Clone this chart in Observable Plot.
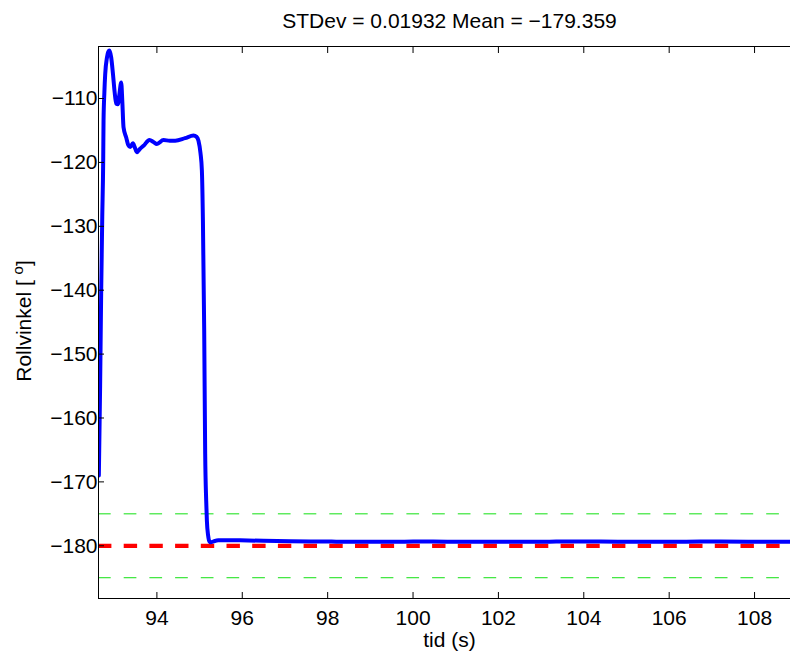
<!DOCTYPE html>
<html><head><meta charset="utf-8">
<script src="https://cdn.jsdelivr.net/npm/d3@7"></script>
<script src="https://cdn.jsdelivr.net/npm/@observablehq/plot@0.6"></script>
<style>html,body{margin:0;padding:0;background:#fff} svg{display:block}</style>
</head><body><div id="chart"></div>
<script>
// time (s) and roll angle (deg)
const time = [92.64, 92.67, 92.695, 92.72, 92.742, 92.75, 92.77, 92.789, 92.83, 92.86, 92.89, 92.93, 92.97, 93.01, 93.047, 93.086, 93.12, 93.164, 93.19, 93.218, 93.281, 93.33, 93.375, 93.438, 93.48, 93.531, 93.6, 93.686, 93.827, 93.92, 94.0, 94.155, 94.3, 94.43, 94.66, 94.857, 94.93, 94.974, 95.02, 95.054, 95.078, 95.108, 95.131, 95.155, 95.171, 95.2, 95.23, 95.26, 95.33, 95.44, 95.6, 95.95, 96.5, 97.13, 97.6, 98.2, 99.0, 99.8, 100.24, 100.8, 101.5, 102.3, 103.2, 104.0, 104.8, 105.6, 106.4, 107.2, 108.0, 108.84];
const roll = [-169.0, -155.0, -140.1, -128.5, -119.7, -113.5, -109.0, -106.2, -103.6, -102.7, -102.5, -103.6, -106.1, -109.0, -110.8, -110.9, -109.4, -107.5, -110.5, -114.5, -116.1, -117.3, -117.6, -117.0, -117.6, -118.4, -117.9, -117.4, -116.5, -116.8, -117.1, -116.5, -116.6, -116.6, -116.2, -115.8, -116.0, -116.6, -118.5, -121.3, -129.1, -146.3, -165.6, -173.0, -176.1, -178.4, -179.3, -179.45, -179.3, -179.15, -179.13, -179.15, -179.22, -179.3, -179.33, -179.35, -179.36, -179.35, -179.32, -179.35, -179.36, -179.36, -179.35, -179.33, -179.36, -179.36, -179.35, -179.34, -179.36, -179.37];

const meanRef = [-180];            // red dashed line
const bandRefs = [-175, -185];     // green dashed lines
const xTicks = [94, 96, 98, 100, 102, 104, 106, 108];
const yTicks = [-110, -120, -130, -140, -150, -160, -170, -180];
const xDomain = [92.632, 108.842];
const yDomain = [-188.25, -101.86];
const titleText = "STDev = 0.01932 Mean = \u2212179.359";
const xLabel = "tid (s)";
const yLabelParts = ["Rollvinkel [ ", "o", "]"];

const data = time.map((t, i) => ({t, v: roll[i]}));
const font = "'Liberation Sans', Arial, Helvetica, sans-serif";
const fmt = d => (d < 0 ? "\u2212" + Math.abs(d) : String(d));

const plot = Plot.plot({
  width: 790, height: 652,
  marginLeft: 98, marginRight: 0, marginTop: 46, marginBottom: 54,
  style: {fontFamily: font, fontSize: "21px", color: "#000", background: "#fff", overflow: "visible"},
  x: {domain: xDomain, label: null},
  y: {domain: yDomain, label: null},
  marks: [
    Plot.ruleY(bandRefs, {stroke: "#11e011", strokeWidth: 1, strokeDasharray: "12.7,13"}),
    Plot.ruleY(meanRef, {stroke: "#ff0000", strokeWidth: 4.3, strokeDasharray: "13.4,12.3"}),
    Plot.line(data, {x: "t", y: "v", stroke: "#0000ff", strokeWidth: 4, curve: "monotone-x", clip: true}),
    Plot.ruleY([yDomain[0], yDomain[1]], {stroke: "#000", strokeWidth: 1}),
    Plot.ruleX([xDomain[0]], {stroke: "#000", strokeWidth: 1}),
    Plot.axisX({anchor: "bottom", ticks: xTicks, tickSize: -6, tickPadding: 18, tickFormat: fmt, label: null}),
    Plot.axisX({anchor: "top", ticks: xTicks, tickSize: -6, tickFormat: () => "", label: null}),
    Plot.axisY({anchor: "left", ticks: yTicks, tickSize: -6, tickPadding: 7, tickFormat: fmt, label: null}),
    Plot.text([titleText], {text: d => d, frameAnchor: "top", dx: 5, dy: -25, lineAnchor: "middle", fontSize: 21}),
    Plot.text([xLabel], {text: d => d, frameAnchor: "bottom", dx: 5, dy: 42, lineAnchor: "middle", fontSize: 21})
  ]
});
document.getElementById("chart").appendChild(plot);

// y label with superscript
const svg = d3.select(plot);
const yl = svg.append("text")
  .attr("transform", "translate(31,321) rotate(-90)")
  .attr("text-anchor", "middle")
  .attr("font-family", font)
  .attr("font-size", 21)
  .attr("fill", "#000");
yl.append("tspan").text(yLabelParts[0]);
yl.append("tspan").attr("dy", -8).attr("font-size", 15).text(yLabelParts[1]);
yl.append("tspan").attr("dy", 8).text(yLabelParts[2]);
</script>
</body></html>
